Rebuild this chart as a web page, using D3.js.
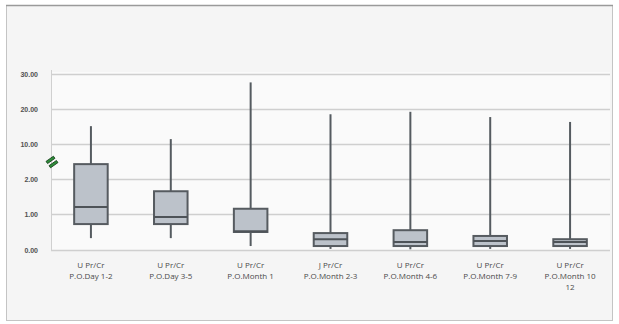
<!DOCTYPE html>
<html>
<head>
<meta charset="utf-8">
<script src="https://cdn.jsdelivr.net/npm/d3@7"></script>
<style>
  body { margin: 0; background: #ffffff; }
  svg { display: block; font-family: "Open Sans", "DejaVu Sans", sans-serif; }
</style>
</head>
<body>
<div id="chart"></div>
<script>
// categories and box stats
var cat_line1 = ['U Pr/Cr', 'U Pr/Cr', 'U Pr/Cr', 'J Pr/Cr', 'U Pr/Cr', 'U Pr/Cr', 'U Pr/Cr'];
var cat_line2 = ['P.O.Day 1-2', 'P.O.Day 3-5', 'P.O.Month 1', 'P.O.Month 2-3', 'P.O.Month 4-6', 'P.O.Month 7-9', 'P.O.Month 10'];
var cat_line3 = ['', '', '', '', '', '', '12'];
var whisker_min = [0.33, 0.33, 0.11, 0.03, 0.02, 0.03, 0.03];
var box_q1 = [0.72, 0.72, 0.5, 0.11, 0.11, 0.11, 0.11];
var box_median = [1.2, 0.92, 0.52, 0.3, 0.22, 0.25, 0.22];
var box_q3 = [5.4, 1.65, 1.15, 0.47, 0.55, 0.39, 0.3];
var whisker_max = [15.1, 11.4, 27.6, 18.5, 19.2, 17.7, 16.3];
var y_ticks = [0, 1, 2, 10, 20, 30];

var width = 619, height = 324;
var svg = d3.select('#chart').append('svg')
  .attr('width', width)
  .attr('height', height);

// chart frame
svg.append('rect')
  .attr('x', 6.5).attr('y', 5.5)
  .attr('width', 606).attr('height', 315)
  .attr('fill', '#f5f5f5')
  .attr('stroke', '#c4c4c4');
svg.append('line')
  .attr('x1', 6).attr('x2', 613).attr('y1', 5.5).attr('y2', 5.5)
  .attr('stroke', '#9a9a9a').attr('stroke-width', 1.5);

var plot_left = 51, plot_right = 610;

svg.append('rect')
  .attr('x', plot_left).attr('y', 72)
  .attr('width', plot_right - plot_left).attr('height', 178)
  .attr('fill', '#fafafa');

// broken scale: piecewise linear
var y = d3.scaleLinear()
  .domain(y_ticks)
  .range([250, 214, 179, 144, 109, 74]);

var x = d3.scaleBand()
  .domain(d3.range(cat_line2.length))
  .range([plot_left, plot_right])
  .paddingInner(0.58)
  .paddingOuter(0.29);

// gridlines
svg.append('g').selectAll('line')
  .data(y_ticks)
  .join('line')
  .attr('x1', plot_left).attr('x2', plot_right)
  .attr('y1', d => y(d) + 0.5).attr('y2', d => y(d) + 0.5)
  .attr('stroke', '#cfcfcf')
  .attr('stroke-width', 1.5);

svg.append('line')
  .attr('x1', plot_left + 0.5).attr('x2', plot_left + 0.5)
  .attr('y1', 70).attr('y2', 251)
  .attr('stroke', '#d0d0d0');

var y_axis = d3.axisLeft(y)
  .tickValues(y_ticks)
  .tickFormat(d3.format('.2f'))
  .tickSize(0)
  .tickPadding(13);

var yg = svg.append('g')
  .attr('transform', 'translate(' + plot_left + ',0)')
  .call(y_axis);
yg.select('.domain').remove();
yg.selectAll('text')
  .attr('font-size', '7px')
  .attr('font-weight', 'bold')
  .attr('fill', '#505050');

// axis break mark
var brk = svg.append('g').attr('transform', 'translate(52,162) rotate(-35)');
[-2.6, 2.6].forEach(function(off) {
  brk.append('rect')
    .attr('x', -4.5).attr('y', off - 1.3)
    .attr('width', 9).attr('height', 2.6)
    .attr('fill', '#2f8f3a')
    .attr('stroke', '#123d18')
    .attr('stroke-width', 0.8);
});

var data = cat_line2.map(function(c, i) {
  return { i: i, min: whisker_min[i], q1: box_q1[i], med: box_median[i], q3: box_q3[i], max: whisker_max[i] };
});

var boxes = svg.append('g').selectAll('g')
  .data(data)
  .join('g');

boxes.append('line')
  .attr('x1', d => x(d.i) + x.bandwidth() / 2)
  .attr('x2', d => x(d.i) + x.bandwidth() / 2)
  .attr('y1', d => y(d.max))
  .attr('y2', d => y(d.min))
  .attr('stroke', '#555b60')
  .attr('stroke-width', 2);

boxes.append('rect')
  .attr('x', d => x(d.i))
  .attr('y', d => y(d.q3))
  .attr('width', x.bandwidth())
  .attr('height', d => y(d.q1) - y(d.q3))
  .attr('fill', '#bcc2ca')
  .attr('stroke', '#565b60')
  .attr('stroke-width', 2);

boxes.append('line')
  .attr('x1', d => x(d.i))
  .attr('x2', d => x(d.i) + x.bandwidth())
  .attr('y1', d => y(d.med))
  .attr('y2', d => y(d.med))
  .attr('stroke', '#4e5358')
  .attr('stroke-width', 2);

// category labels
var labels = svg.append('g').selectAll('text')
  .data(data)
  .join('text')
  .attr('x', d => x(d.i) + x.bandwidth() / 2)
  .attr('y', 268)
  .attr('text-anchor', 'middle')
  .attr('font-size', '8px')
  .attr('fill', '#4a4a4a');
labels.append('tspan')
  .attr('x', d => x(d.i) + x.bandwidth() / 2)
  .text(d => cat_line1[d.i]);
labels.append('tspan')
  .attr('x', d => x(d.i) + x.bandwidth() / 2)
  .attr('dy', 11)
  .text(d => cat_line2[d.i]);
labels.append('tspan')
  .attr('x', d => x(d.i) + x.bandwidth() / 2)
  .attr('dy', 11)
  .text(d => cat_line3[d.i]);
</script>
</body>
</html>
